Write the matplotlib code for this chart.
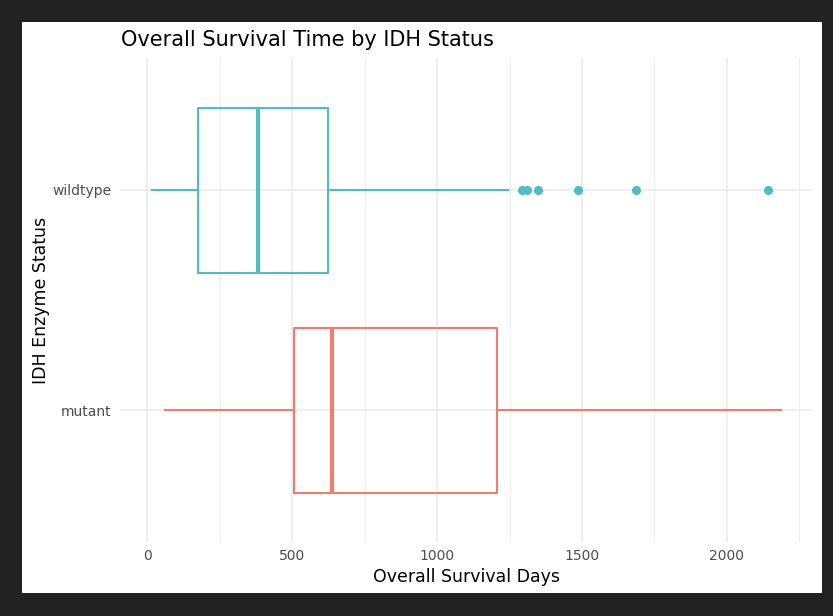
import matplotlib
matplotlib.use("Agg")
import matplotlib.pyplot as plt
from matplotlib.patches import Rectangle

# box statistics (days)
groups = ["mutant", "wildtype"]
colors = ["#EF7D70", "#4FBDC1"]
whisk_lo = [61, 15]
q1 = [506, 176]
median = [638, 383]
q3 = [1206, 624]
whisk_hi = [2188, 1245]
outliers = [[], [1294, 1309, 1348, 1486, 1688, 2141]]

xticks = [0, 500, 1000, 1500, 2000]
minor_ticks = [250, 750, 1250, 1750, 2250]

fig = plt.figure(figsize=(8.33, 6.16), dpi=100)
fig.patch.set_facecolor("#222222")
# white card inside the dark frame
fig.patches.append(Rectangle((22 / 833, 1 - 593 / 616), 800 / 833, 571 / 616,
                             transform=fig.transFigure, facecolor="white",
                             edgecolor="none", zorder=-5))

ax = fig.add_axes([120 / 833, 1 - 542 / 616, 693 / 833, 484 / 616])
ax.set_facecolor("white")

# draw each group from its own stats
for i, g in enumerate(groups):
    st = [{"label": g, "whislo": whisk_lo[i], "q1": q1[i], "med": median[i],
           "q3": q3[i], "whishi": whisk_hi[i], "fliers": outliers[i]}]
    c = colors[i]
    ax.bxp(st, positions=[i + 1], widths=0.75, vert=False, showcaps=False,
           boxprops=dict(color=c, linewidth=1.5),
           whiskerprops=dict(color=c, linewidth=1.5),
           medianprops=dict(color=c, linewidth=3),
           flierprops=dict(marker="o", markerfacecolor=c, markeredgecolor=c,
                           markersize=5.5, linestyle="none"),
           zorder=3)

ax.set_xlim(-94, 2297)
ax.set_ylim(0.4, 2.6)
ax.set_xticks(xticks)
ax.set_xticks(minor_ticks, minor=True)
ax.set_yticks([1, 2])
ax.set_yticklabels(groups)

ax.grid(True, which="major", color="#EBEBEB", linewidth=1.1, zorder=0)
ax.grid(True, which="minor", axis="x", color="#EBEBEB", linewidth=0.6, zorder=0)
ax.set_axisbelow(True)
for s in ax.spines.values():
    s.set_visible(False)
ax.tick_params(which="both", length=0, labelsize=10, labelcolor="#4D4D4D")
ax.tick_params(axis="x", pad=5)
ax.tick_params(axis="y", pad=6)

ax.set_xlabel("Overall Survival Days", fontsize=12.5, labelpad=4)
ax.set_ylabel("IDH Enzyme Status", fontsize=12.5, labelpad=2)
fig.text(121 / 833, 1 - 40 / 616, "Overall Survival Time by IDH Status",
         fontsize=15, ha="left", va="center")

fig.savefig("out.png", dpi=100, facecolor=fig.get_facecolor())
